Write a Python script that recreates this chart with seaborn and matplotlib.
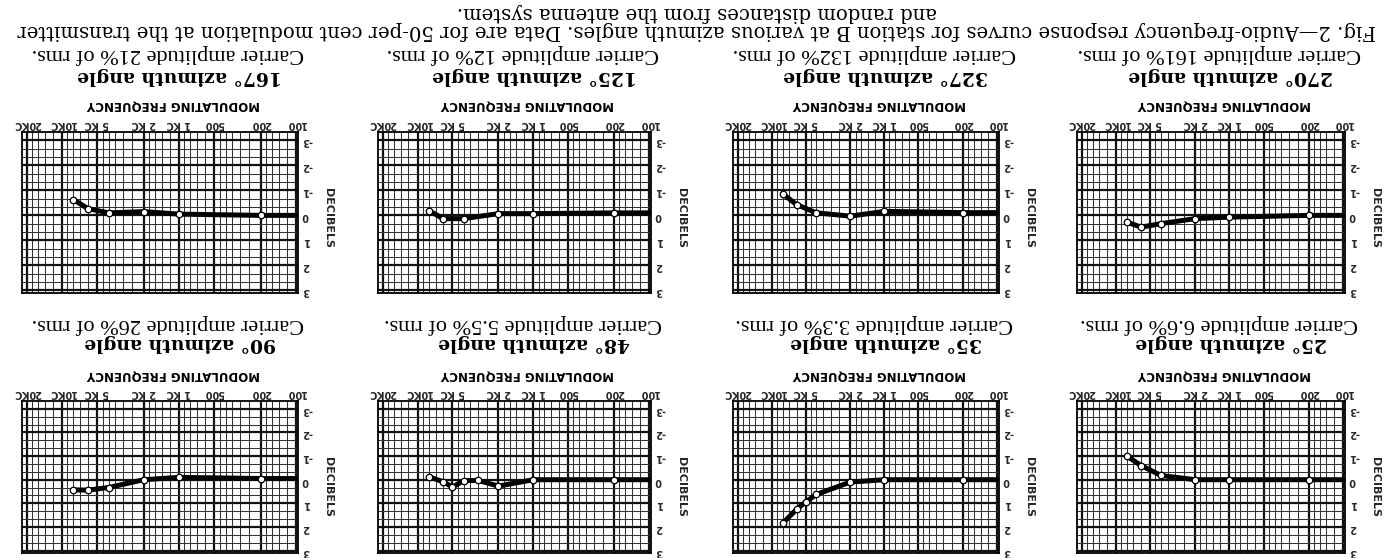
import numpy as np
import pandas as pd
import matplotlib
matplotlib.use("Agg")
import matplotlib.pyplot as plt
import seaborn as sns
from matplotlib.ticker import FixedLocator, FixedFormatter, NullFormatter

sns.set_theme(style="white")
plt.rcParams['font.family'] = ['DejaVu Sans']

# ---- data: response in dB at each modulating frequency (cycles) ----
freq_std = [100, 200, 1000, 2000, 4000, 6000, 8000]
freq_35 = [100, 200, 1000, 2000, 4000, 5000, 6000, 8000]
freq_48 = [100, 200, 1000, 2000, 3000, 4000, 5000, 6000, 8000]

db_270 = [0.0, 0.0, 0.07, 0.13, 0.33, 0.47, 0.27]
db_327 = [-0.11, -0.11, -0.16, 0.03, -0.10, -0.43, -0.87]
db_125 = [-0.10, -0.10, -0.07, -0.07, 0.13, 0.13, -0.19]
db_167 = [0.0, 0.0, -0.05, -0.15, -0.10, -0.27, -0.63]
db_25 = [0.0, 0.0, 0.0, 0.0, -0.18, -0.60, -1.00]
db_35 = [0.0, 0.0, 0.0, 0.10, 0.62, 0.95, 1.25, 1.85]
db_48 = [0.0, 0.0, 0.0, 0.27, 0.03, 0.04, 0.31, 0.09, -0.13]
db_90 = [-0.05, -0.05, -0.10, 0.0, 0.33, 0.44, 0.43]

azimuths = ["270", "327", "125", "167", "25", "35", "48", "90"]
carriers = ["161", "132", "12", "21", "6.6", "3.3", "5.5", "26"]

x_ticks = [100, 200, 500, 1000, 2000, 5000, 10000, 20000]
x_tick_labels = ["100", "200", "500", "1 KC", "2 KC", "5 KC", "10KC", "20KC"]
y_ticks = [-3, -2, -1, 0, 1, 2, 3]
y_tick_labels = ["-3", "-2", "-1", "0", "1", "2", "3"]

caption = ("Fig. 2\u2014Audio-frequency response curves for station B at various "
           "azimuth angles. Data are for 50-per cent modulation at the transmitter\n"
           "and random distances from the antenna system.")

panels = {
    "270": (freq_std, db_270), "327": (freq_std, db_327),
    "125": (freq_std, db_125), "167": (freq_std, db_167),
    "25": (freq_std, db_25), "35": (freq_35, db_35),
    "48": (freq_48, db_48), "90": (freq_std, db_90),
}

# ---- page geometry (pixels); the sheet is printed upside down ----
W, H, DPI = 1390, 558, 100
fig = plt.figure(figsize=(W / DPI, H / DPI), dpi=DPI)
fig.patch.set_facecolor("white")

cols = [(22, 276), (378, 273), (733, 266), (1077, 268)]
row_top = [132, 401]
row_h = [161, 152]

# panel order on the inverted sheet: top row then bottom row, left to right
layout = [("167", 0, 0), ("125", 0, 1), ("327", 0, 2), ("270", 0, 3),
          ("90", 1, 0), ("48", 1, 1), ("35", 1, 2), ("25", 1, 3)]

minor_x = []
for dec in [100, 1000, 10000]:
    for m in [1.2, 1.4, 1.6, 1.8, 2.5, 3, 3.5, 4, 4.5, 6, 7, 8, 9]:
        minor_x.append(m * dec)
minor_y = [v / 3 for v in range(-10, 10) if v % 3 != 0]

text_rot = dict(rotation=180, ha="center", va="center", color="black")

for az, r, c in layout:
    left, width = cols[c]
    top = row_top[r]
    plot_h = row_h[r]
    ax = fig.add_axes([left / W, 1 - (top + plot_h) / H, width / W, plot_h / H])
    f, d = panels[az]
    df = pd.DataFrame({"freq": f, "db": d})

    ax.set_xscale("log")
    ax.set_xlim(22000, 96)
    ax.set_ylim(3.1, -3.33)

    ax.xaxis.set_major_locator(FixedLocator(x_ticks))
    ax.xaxis.set_major_formatter(FixedFormatter(x_tick_labels))
    ax.xaxis.set_minor_locator(FixedLocator(minor_x))
    ax.xaxis.set_minor_formatter(NullFormatter())
    ax.yaxis.set_major_locator(FixedLocator(y_ticks))
    ax.yaxis.set_major_formatter(FixedFormatter(y_tick_labels))
    ax.yaxis.set_minor_locator(FixedLocator(minor_y))

    ax.grid(which="major", color="#111111", lw=1.6)
    ax.grid(which="minor", color="#333333", lw=0.75)
    ax.set_axisbelow(True)

    sns.lineplot(data=df, x="freq", y="db", ax=ax, color="black", lw=3.6,
                 sort=False, estimator=None, zorder=3)
    sns.scatterplot(data=df.iloc[1:], x="freq", y="db", ax=ax, s=22,
                    facecolor="white", edgecolor="black", linewidth=0.9, zorder=4)

    ax.set_xlabel("")
    ax.set_ylabel("")
    ax.xaxis.tick_top()
    ax.yaxis.tick_right()
    ax.tick_params(axis="x", which="both", length=0, pad=2.5, labelsize=7,
                   labeltop=True, labelbottom=False, labelrotation=180)
    ax.tick_params(axis="y", which="both", length=0, pad=3, labelsize=7,
                   labelright=True, labelleft=False, labelrotation=180)
    for lab in ax.get_xticklabels() + ax.get_yticklabels():
        lab.set_fontweight("bold")
    for sp in ax.spines.values():
        sp.set_color("black")
        sp.set_linewidth(1.3)

    cx = left + width / 2
    if r == 0:
        y_car, y_az, y_mod = 54, 76, 105
    else:
        y_car, y_az, y_mod = 324, 343, 375
    fig.text((cx + 8) / W, 1 - y_car / H,
             f"Carrier amplitude {carriers[azimuths.index(az)]}% of rms.",
             fontsize=16, family="Liberation Serif", **text_rot)
    fig.text((cx + 20) / W, 1 - y_az / H, f"{az}\u00b0 azimuth angle",
             fontsize=13.5, family="DejaVu Serif", fontweight="bold", **text_rot)
    fig.text((cx + 13) / W, 1 - y_mod / H, "MODULATING FREQUENCY",
             fontsize=8.5, fontweight="bold", **text_rot)
    fig.text((left + width + 30) / W, 1 - (top + 86) / H, "DECIBELS",
             fontsize=8, fontweight="bold", rotation=270, ha="center", va="center")

fig.text(697 / W, 1 - 21.5 / H, caption, fontsize=14.1, family="DejaVu Serif",
         multialignment="center", linespacing=0.98, **text_rot)

fig.savefig("out.png", dpi=DPI, facecolor="white")
